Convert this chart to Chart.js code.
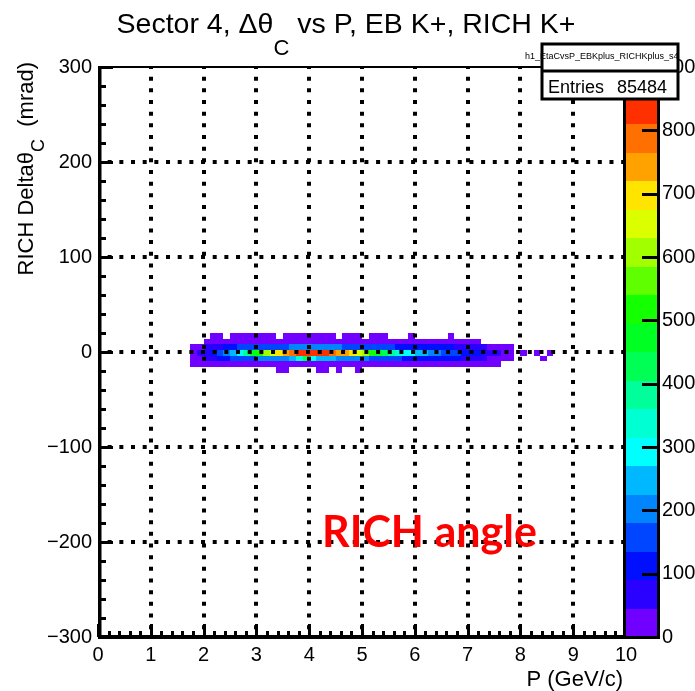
<!DOCTYPE html>
<html>
<head>
<meta charset="utf-8">
<script src="https://cdn.jsdelivr.net/npm/chart.js@4.4.0/dist/chart.umd.min.js"></script>
<style>
  html, body { margin: 0; padding: 0; background: #fff; }
  #wrap { width: 695px; height: 691px; }
</style>
</head>
<body>
<div id="wrap"><canvas id="dthetaChart" width="695" height="691"></canvas></div>
<script>
// momentum binning (GeV/c): lower edge of first filled bin, bin width
const pFirstEdge = 1.75;
const pBinWidth = 0.125;
// delta theta_C binning (mrad): row centres, bin width
const dthRows = [17, 11, 5, -1, -7, -13, -19];
const dthBinWidth = 6;

// counts per delta theta row, one value per momentum bin from pFirstEdge
const rowP17 = [0,0,0,1,2,0,3,3,4,4, 6,6,4,0,5,5,5,7,7,5, 5,4,0,3,3,2,0,1,1,1, 0,0,0,1,0,0,0,0,0,1, 0,0,0,0,0,0,0,0,0,0, 0,0,0,0,0];
const rowP11 = [0,0,3,6,10,14,18,22,25,28, 30,32,34,36,38,40,40,40,40,40, 40,38,36,35,33,32,30,28,26,24, 22,20,18,16,14,12,10,9,8,7, 6,5,4,3,0,0,0,0,0,0, 0,0,0,0,0];
const rowP5  = [10,25,45,65,85,105,120,135,145,150, 155,160,165,170,175,185,195,200,200,195, 190,185,180,175,170,165,160,150,145,140, 135,130,125,120,115,110,105,100,95,90, 85,75,65,55,45,35,25,15,5,0, 0,0,0,0,0];
const rowM1  = [30,55,80,110,150,200,255,300,380,450, 530,600,670,700,740,790,830,850,845,835, 820,790,750,725,690,660,600,520,460,420, 370,330,300,280,250,235,210,190,170,150, 140,125,110,95,80,60,50,30,10,0, 2,0,1,0,1];
const rowM7  = [18,35,55,75,95,115,135,150,160,170, 180,190,200,210,220,250,330,410,300,260, 240,230,215,205,195,190,180,170,160,150, 145,140,130,125,120,115,110,105,100,95, 90,80,70,60,50,40,30,18,6,0, 0,0,0,1,0];
const rowM13 = [5,8,12,16,20,25,28,32,34,37, 39,41,43,44,44,44,44,44,44,44, 44,44,44,43,40,36,34,31,28,27, 24,23,20,18,17,15,12,11,10,9, 8,7,6,5,4,2,1,0,0,0, 0,0,0,0,0];
const rowM19 = [0,0,0,0,0,0,0,0,0,0, 0,0,0,1,1,0,0,0,0,1, 1,0,1,0,0,1,0,0,0,0, 0,0,0,0,0,0,0,0,0,0, 0,0,0,0,0,0,0,0,0,0, 0,0,0,0,0];

// axis ticks
const pTicks = [0, 1, 2, 3, 4, 5, 6, 7, 8, 9, 10];
const dthTicks = [-300, -200, -100, 0, 100, 200, 300];
const zTicks = [0, 100, 200, 300, 400, 500, 600, 700, 800, 900];

// colour contours (20 levels up to zMax)
const zMax = 900;
const paletteColors = ['#7000ff','#2a00ff','#0010ff','#0045ff','#0085ff','#00b8ff','#00ffff','#00ffd2','#00ff9a','#00ff55',
                       '#00ff22','#14ff00','#60ff00','#a2ff00','#dcff00','#ffe400','#ffa200','#ff7000','#ff3000','#ff0000'];

const histName = 'h1_EtaCvsP_EBKplus_RICHKplus_s4';
const entries = 85484;

const rowCounts = [rowP17, rowP11, rowP5, rowM1, rowM7, rowM13, rowM19];
const cells = [];
dthRows.forEach((dth, r) => {
    rowCounts[r].forEach((n, i) => {
        if (n > 0) cells.push({ x: pFirstEdge + pBinWidth * (i + 0.5), y: dth, v: n });
    });
});

const levelWidth = zMax / paletteColors.length;
function colorFor(v) {
    const k = Math.min(paletteColors.length - 1, Math.floor(v / levelWidth));
    return paletteColors[k];
}

const FONT = '"Liberation Sans", Arial, sans-serif';

// 2D histogram cells, drawn below the grid
const histPlugin = {
    id: 'histCells',
    beforeDatasetsDraw(chart) {
        const { ctx, chartArea: a, scales: { x, y } } = chart;
        ctx.save();
        ctx.beginPath();
        ctx.rect(a.left, a.top, a.width, a.height);
        ctx.clip();
        chart.data.datasets[0].data.forEach(c => {
            const x0 = Math.round(x.getPixelForValue(c.x - pBinWidth / 2));
            const x1 = Math.round(x.getPixelForValue(c.x + pBinWidth / 2));
            const y0 = Math.round(y.getPixelForValue(c.y + dthBinWidth / 2));
            const y1 = Math.round(y.getPixelForValue(c.y - dthBinWidth / 2));
            ctx.fillStyle = colorFor(c.v);
            ctx.fillRect(x0, y0, x1 - x0, y1 - y0);
        });
        ctx.restore();
    }
};

// grid, frame, ticks, palette, stats box and titles
const framePlugin = {
    id: 'rootFrame',
    afterDatasetsDraw(chart) {
        const { ctx, chartArea: a, scales: { x, y, z } } = chart;
        ctx.save();

        // dotted grid
        ctx.strokeStyle = '#000';
        ctx.lineWidth = 4;
        ctx.setLineDash([4, 7.67]);
        ctx.lineDashOffset = 2;
        pTicks.slice(1, -1).forEach(v => {
            const px = Math.round(x.getPixelForValue(v));
            ctx.beginPath(); ctx.moveTo(px, a.top); ctx.lineTo(px, a.bottom); ctx.stroke();
        });
        dthTicks.slice(1, -1).forEach(v => {
            const py = Math.round(y.getPixelForValue(v));
            ctx.beginPath(); ctx.moveTo(a.left, py); ctx.lineTo(a.right, py); ctx.stroke();
        });
        ctx.setLineDash([]);

        // frame
        ctx.fillStyle = '#000';
        ctx.fillRect(a.left, a.top - 1, a.width, 2);
        ctx.fillRect(a.left, a.top - 1, 3.5, a.height + 3);
        ctx.fillRect(a.left, a.bottom - 2, a.width, 4);

        // x ticks
        for (let v = 0; v <= 10.001; v += 0.2) {
            const px = x.getPixelForValue(v);
            const major = Math.abs(v - Math.round(v)) < 1e-6;
            ctx.fillRect(Math.round(px) - 1, a.bottom - (major ? 13 : 6), 3, major ? 13 : 6);
        }
        // y ticks
        for (let v = -300; v <= 300; v += 20) {
            const py = y.getPixelForValue(v);
            const major = v % 100 === 0;
            ctx.fillRect(a.left, Math.round(py) - 1, major ? 15 : 8, 3);
        }

        // colour palette
        const cbL = a.right, cbR = a.right + 32;
        paletteColors.forEach((col, k) => {
            const yTop = Math.round(z.getPixelForValue((k + 1) * levelWidth));
            const yBot = Math.round(z.getPixelForValue(k * levelWidth));
            ctx.fillStyle = col;
            ctx.fillRect(cbL, yTop, cbR - cbL, yBot - yTop);
        });
        ctx.fillStyle = '#000';
        ctx.fillRect(cbL - 3, a.top, 3, a.height + 2);
        ctx.fillRect(cbR - 1, a.top, 3, a.height + 2);
        ctx.fillRect(cbL - 3, a.bottom - 1, cbR - cbL + 5, 3);
        zTicks.forEach(v => {
            const py = Math.round(z.getPixelForValue(v));
            ctx.fillRect(cbR - 16, py - 1, 16, 3);
        });

        // stats box
        const bx = 542, by = 44, bw = 136, bh = 55;
        ctx.fillStyle = '#fff';
        ctx.fillRect(bx, by, bw, bh);
        ctx.fillStyle = '#000';
        ctx.font = '9px ' + FONT;
        ctx.textAlign = 'left';
        ctx.textBaseline = 'alphabetic';
        ctx.fillText(histName, 525, 59);
        ctx.strokeStyle = '#000';
        ctx.lineWidth = 3;
        ctx.strokeRect(bx, by, bw, bh);
        ctx.beginPath(); ctx.moveTo(bx, by + 27); ctx.lineTo(bx + bw, by + 27); ctx.stroke();
        ctx.font = '18px ' + FONT;
        ctx.fillText('Entries', 548, 93);
        ctx.textAlign = 'right';
        ctx.fillText(String(entries), 667, 93);

        // main title with subscript
        ctx.textAlign = 'left';
        const t1 = 'Sector 4, \u0394\u03b8', t2 = ' vs P, EB K+, RICH K+';
        ctx.font = '22px ' + FONT;
        const wSub = ctx.measureText('C').width;
        ctx.font = '28.5px ' + FONT;
        const w1 = ctx.measureText(t1).width, w2 = ctx.measureText(t2).width;
        let tx = 346 - (w1 + wSub + w2) / 2;
        ctx.fillText(t1, tx, 33);
        tx += w1;
        ctx.font = '22px ' + FONT;
        ctx.fillText('C', tx, 55);
        tx += wSub;
        ctx.font = '28.5px ' + FONT;
        ctx.fillText(t2, tx, 33);

        // y axis title, right-aligned to the top of the frame
        ctx.save();
        const ya = 'RICH Delta\u03b8', yb = '  (mrad)';
        ctx.font = '18px ' + FONT;
        const wc = ctx.measureText('C').width;
        ctx.font = '22px ' + FONT;
        const wa = ctx.measureText(ya).width, wb = ctx.measureText(yb).width;
        ctx.translate(33, a.top - 5);
        ctx.rotate(-Math.PI / 2);
        let ty = -(wa + wc + wb);
        ctx.fillText(ya, ty, 0);
        ty += wa;
        ctx.font = '18px ' + FONT;
        ctx.fillText('C', ty, 11);
        ty += wc;
        ctx.font = '22px ' + FONT;
        ctx.fillText(yb, ty, 0);
        ctx.restore();

        // x axis title
        ctx.font = '22px ' + FONT;
        ctx.textAlign = 'right';
        ctx.fillText('P (GeV/c)', 623, 686);

        // annotation
        ctx.font = 'bold 43px Lato, ' + FONT;
        ctx.fillStyle = '#ff0000';
        ctx.textAlign = 'left';
        ctx.fillText('RICH angle', 322, 547);

        ctx.restore();
    }
};

const tickFont = { family: FONT, size: 20 };

new Chart(document.getElementById('dthetaChart').getContext('2d'), {
    type: 'scatter',
    data: {
        datasets: [{
            label: histName,
            data: cells,
            pointRadius: 0,
            pointHoverRadius: 0
        }]
    },
    options: {
        responsive: false,
        animation: false,
        events: [],
        layout: { padding: { left: 0, right: 0, top: 67, bottom: 0 } },
        plugins: { legend: { display: false }, tooltip: { enabled: false }, title: { display: false } },
        scales: {
            x: {
                type: 'linear', position: 'bottom', min: 0, max: 10,
                grid: { display: false, drawTicks: false },
                border: { display: false },
                afterBuildTicks: s => { s.ticks = pTicks.map(v => ({ value: v })); },
                afterFit: s => { s.height = 54; },
                ticks: { color: '#000', font: tickFont, padding: 6, autoSkip: false, maxRotation: 0 }
            },
            y: {
                type: 'linear', position: 'left', min: -300, max: 300,
                grid: { display: false, drawTicks: false },
                border: { display: false },
                afterBuildTicks: s => { s.ticks = dthTicks.map(v => ({ value: v })); },
                afterFit: s => { s.width = 98; },
                ticks: { color: '#000', font: tickFont, padding: 6, autoSkip: false,
                         callback: v => (v < 0 ? '\u2212' + Math.abs(v) : String(v)) }
            },
            z: {
                type: 'linear', position: 'right', min: 0, max: zMax,
                grid: { display: false, drawTicks: false },
                border: { display: false },
                afterBuildTicks: s => { s.ticks = zTicks.map(v => ({ value: v })); },
                afterFit: s => { s.width = 69; },
                ticks: { color: '#000', font: tickFont, padding: 36, autoSkip: false }
            }
        }
    },
    plugins: [histPlugin, framePlugin]
});
</script>
</body>
</html>
